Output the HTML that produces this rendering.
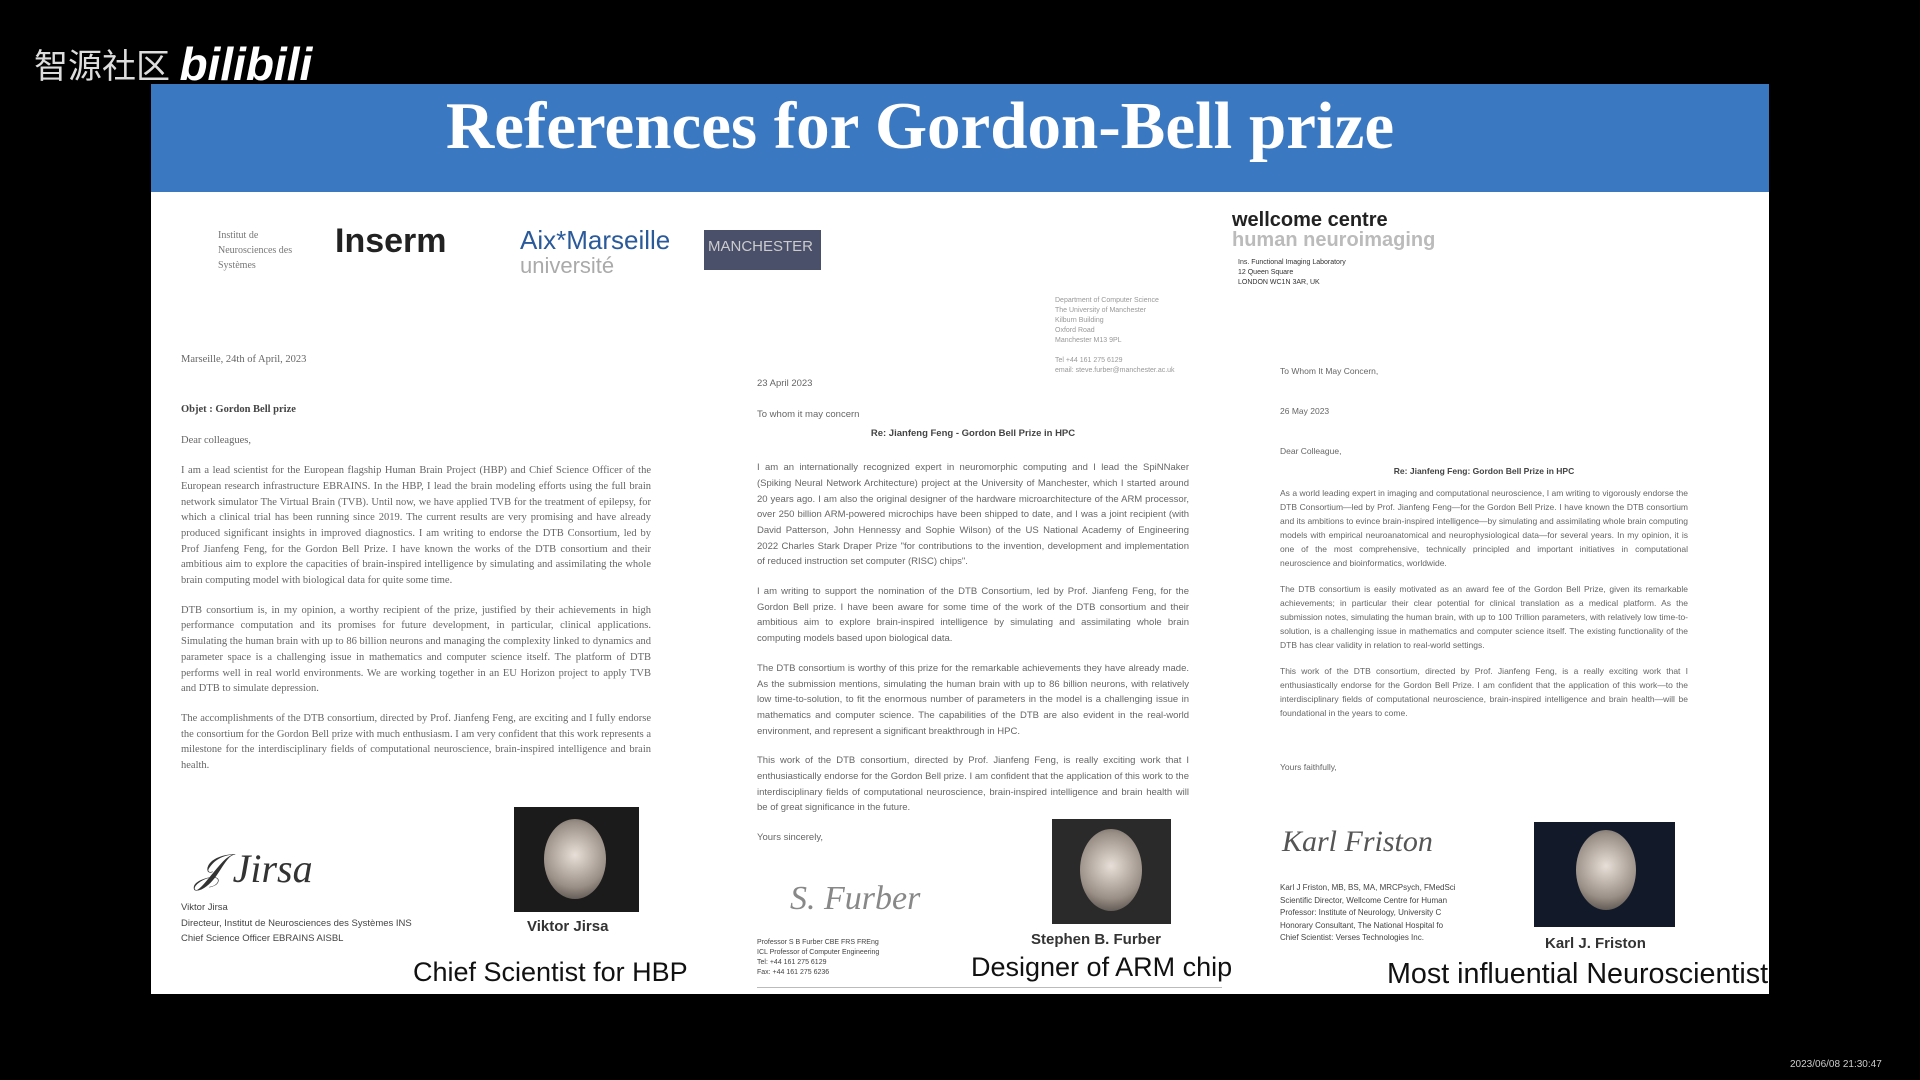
<!DOCTYPE html>
<html><head><meta charset="utf-8"><style>
*{margin:0;padding:0;box-sizing:border-box}
body{width:1920px;height:1080px;background:#000;position:relative;overflow:hidden;font-family:"Liberation Sans",sans-serif}
.a{position:absolute}
.p{position:absolute;font-size:10.5px;line-height:15.7px;color:#666;text-align:justify;font-family:"Liberation Serif",serif;overflow:hidden}
.s{font-family:"Liberation Sans",sans-serif;font-size:9.5px}
.cap{position:absolute;font-size:27px;color:#111;white-space:nowrap}
.photo{position:absolute;background:#1b1b1b;overflow:hidden}
.face{position:absolute;border-radius:50%;background:radial-gradient(circle at 50% 45%,#e8e0d8,#9a8f86 60%,#3a3532)}
.nm{position:absolute;font-size:15px;font-weight:bold;color:#333;white-space:nowrap}
</style></head><body>
<div class="a" style="left:34px;top:36px;line-height:56px;color:#ddd;font-size:34px;font-family:'Liberation Sans','Noto Sans CJK SC',sans-serif;white-space:nowrap">智源社区 <span style="font-weight:bold;font-style:italic;font-size:46px;color:#fff;vertical-align:-2px">bilibili</span></div>
<div class="a" style="left:151px;top:84px;width:1618px;height:910px;background:#fff"></div>
<div class="a" style="left:151px;top:84px;width:1618px;height:108px;background:#3b78c2"></div>
<div class="a" style="left:151px;top:88px;width:1538px;text-align:center;color:#fff;font-family:'Liberation Serif',serif;font-weight:bold;font-size:67px;white-space:nowrap">References for Gordon-Bell prize</div>

<div class="a" style="left:158px;top:228px;font-family:'Liberation Serif',serif;font-size:10px;color:#777;line-height:15px;padding-left:60px">Institut de<br>Neurosciences des<br>Systèmes</div>
<div class="a" style="left:335px;top:222px;font-size:34px;font-weight:bold;color:#222">Inserm</div>
<div class="a" style="left:520px;top:228px;font-size:26px;color:#2a5a9a;line-height:24px">Aix*Marseille<br><span style="color:#aaa;font-size:22px">université</span></div>
<div class="a" style="left:704px;top:230px;width:117px;height:40px;background:#4a4f6a;color:#ccc;font-size:15px;padding:8px 4px">MANCHESTER</div>
<div class="a" style="left:1232px;top:210px;font-size:20px;font-weight:bold;color:#222;line-height:20px">wellcome centre<br><span style="color:#bbb">human neuroimaging</span></div>
<div class="p s" style="left:1238px;top:258px;width:500px;height:60px;font-size:7px;line-height:10px;color:#333">Ins. Functional Imaging Laboratory<br>12 Queen Square<br>LONDON WC1N 3AR, UK</div>
<div class="p s" style="left:1055px;top:296px;width:140px;height:90px;font-size:7px;line-height:10px;color:#999">Department of Computer Science<br>The University of Manchester<br>Kilburn Building<br>Oxford Road<br>Manchester M13 9PL<br><br>Tel +44 161 275 6129<br>email: steve.furber@manchester.ac.uk</div>

<!-- Left letter -->
<div class="p" style="left:181px;top:352px;width:470px;height:440px">
<div>Marseille, 24th of April, 2023</div><div style="height:34px"></div>
<div style="font-weight:bold;color:#444">Objet : Gordon Bell prize</div><div style="height:16px"></div>
<div>Dear colleagues,</div><div style="height:14px"></div>
<div>I am a lead scientist for the European flagship Human Brain Project (HBP) and Chief Science Officer of the European research infrastructure EBRAINS. In the HBP, I lead the brain modeling efforts using the full brain network simulator The Virtual Brain (TVB). Until now, we have applied TVB for the treatment of epilepsy, for which a clinical trial has been running since 2019. The current results are very promising and have already produced significant insights in improved diagnostics. I am writing to endorse the DTB Consortium, led by Prof Jianfeng Feng, for the Gordon Bell Prize. I have known the works of the DTB consortium and their ambitious aim to explore the capacities of brain-inspired intelligence by simulating and assimilating the whole brain computing model with biological data for quite some time.</div><div style="height:14px"></div>
<div>DTB consortium is, in my opinion, a worthy recipient of the prize, justified by their achievements in high performance computation and its promises for future development, in particular, clinical applications. Simulating the human brain with up to 86 billion neurons and managing the complexity linked to dynamics and parameter space is a challenging issue in mathematics and computer science itself. The platform of DTB performs well in real world environments. We are working together in an EU Horizon project to apply TVB and DTB to simulate depression.</div><div style="height:14px"></div>
<div>The accomplishments of the DTB consortium, directed by Prof. Jianfeng Feng, are exciting and I fully endorse the consortium for the Gordon Bell prize with much enthusiasm. I am very confident that this work represents a milestone for the interdisciplinary fields of computational neuroscience, brain-inspired intelligence and brain health.</div>
</div>
<div class="a" style="left:195px;top:845px;font-family:'Liberation Serif',serif;font-style:italic;font-size:40px;color:#333">𝒥 Jirsa</div>
<div class="p s" style="left:181px;top:900px;width:320px;height:50px;color:#444">Viktor Jirsa<br>Directeur, Institut de Neurosciences des Systèmes INS<br>Chief Science Officer EBRAINS AISBL</div>
<div class="photo" style="left:514px;top:807px;width:125px;height:105px"><div class="face" style="left:30px;top:12px;width:62px;height:80px"></div></div>
<div class="nm" style="left:527px;top:918px">Viktor Jirsa</div>
<div class="cap" style="left:413px;top:957px">Chief Scientist for HBP</div>

<!-- Middle letter -->
<div class="p s" style="left:757px;top:376px;width:432px;height:490px">
<div>23 April 2023</div><div style="height:15px"></div>
<div>To whom it may concern</div>
<div style="text-align:center;font-weight:bold;color:#444;margin:4px 0 18px">Re: Jianfeng Feng - Gordon Bell Prize in HPC</div>
<div>I am an internationally recognized expert in neuromorphic computing and I lead the SpiNNaker (Spiking Neural Network Architecture) project at the University of Manchester, which I started around 20 years ago. I am also the original designer of the hardware microarchitecture of the ARM processor, over 250 billion ARM-powered microchips have been shipped to date, and I was a joint recipient (with David Patterson, John Hennessy and Sophie Wilson) of the US National Academy of Engineering 2022 Charles Stark Draper Prize "for contributions to the invention, development and implementation of reduced instruction set computer (RISC) chips".</div><div style="height:14px"></div>
<div>I am writing to support the nomination of the DTB Consortium, led by Prof. Jianfeng Feng, for the Gordon Bell prize. I have been aware for some time of the work of the DTB consortium and their ambitious aim to explore brain-inspired intelligence by simulating and assimilating whole brain computing models based upon biological data.</div><div style="height:14px"></div>
<div>The DTB consortium is worthy of this prize for the remarkable achievements they have already made. As the submission mentions, simulating the human brain with up to 86 billion neurons, with relatively low time-to-solution, to fit the enormous number of parameters in the model is a challenging issue in mathematics and computer science. The capabilities of the DTB are also evident in the real-world environment, and represent a significant breakthrough in HPC.</div><div style="height:14px"></div>
<div>This work of the DTB consortium, directed by Prof. Jianfeng Feng, is really exciting work that I enthusiastically endorse for the Gordon Bell prize. I am confident that the application of this work to the interdisciplinary fields of computational neuroscience, brain-inspired intelligence and brain health will be of great significance in the future.</div><div style="height:14px"></div>
<div>Yours sincerely,</div>
</div>
<div class="a" style="left:790px;top:880px;font-style:italic;font-size:34px;color:#888;font-family:'Liberation Serif',serif">S. Furber</div>
<div class="p s" style="left:757px;top:938px;width:200px;height:52px;font-size:7px;line-height:10px;color:#444">Professor S B Furber CBE FRS FREng<br>ICL Professor of Computer Engineering<br>Tel: +44 161 275 6129<br>Fax: +44 161 275 6236</div>
<div class="a" style="left:757px;top:987px;width:465px;height:1px;background:#bbb"></div>
<div class="photo" style="left:1052px;top:819px;width:119px;height:105px;background:#2a2a2a"><div class="face" style="left:28px;top:10px;width:62px;height:82px"></div></div>
<div class="nm" style="left:1031px;top:931px">Stephen B. Furber</div>
<div class="cap" style="left:971px;top:952px">Designer of ARM chip</div>

<!-- Right letter -->
<div class="p s" style="left:1280px;top:364px;width:408px;height:440px;font-size:8.5px;line-height:14px">
<div>To Whom It May Concern,</div><div style="height:26px"></div>
<div>26 May 2023</div><div style="height:26px"></div>
<div>Dear Colleague,</div>
<div style="text-align:center;font-weight:bold;color:#444;margin:6px 0 8px">Re: Jianfeng Feng: Gordon Bell Prize in HPC</div>
<div>As a world leading expert in imaging and computational neuroscience, I am writing to vigorously endorse the DTB Consortium—led by Prof. Jianfeng Feng—for the Gordon Bell Prize. I have known the DTB consortium and its ambitions to evince brain-inspired intelligence—by simulating and assimilating whole brain computing models with empirical neuroanatomical and neurophysiological data—for several years. In my opinion, it is one of the most comprehensive, technically principled and important initiatives in computational neuroscience and bioinformatics, worldwide.</div><div style="height:12px"></div>
<div>The DTB consortium is easily motivated as an award fee of the Gordon Bell Prize, given its remarkable achievements; in particular their clear potential for clinical translation as a medical platform. As the submission notes, simulating the human brain, with up to 100 Trillion parameters, with relatively low time-to-solution, is a challenging issue in mathematics and computer science itself. The existing functionality of the DTB has clear validity in relation to real-world settings.</div><div style="height:12px"></div>
<div>This work of the DTB consortium, directed by Prof. Jianfeng Feng, is a really exciting work that I enthusiastically endorse for the Gordon Bell Prize. I am confident that the application of this work—to the interdisciplinary fields of computational neuroscience, brain-inspired intelligence and brain health—will be foundational in the years to come.</div><div style="height:40px"></div>
<div>Yours faithfully,</div>
</div>
<div class="a" style="left:1282px;top:825px;font-style:italic;font-size:30px;color:#555;font-family:'Liberation Serif',serif">Karl Friston</div>
<div class="p s" style="left:1280px;top:882px;width:200px;height:66px;font-size:8px;line-height:12.5px;color:#444;white-space:nowrap">Karl J Friston, MB, BS, MA, MRCPsych, FMedSci<br>Scientific Director, Wellcome Centre for Human<br>Professor: Institute of Neurology, University C<br>Honorary Consultant, The National Hospital fo<br>Chief Scientist: Verses Technologies Inc.</div>
<div class="photo" style="left:1534px;top:822px;width:141px;height:105px;background:#121a2a"><div class="face" style="left:42px;top:8px;width:60px;height:80px"></div></div>
<div class="nm" style="left:1545px;top:935px">Karl J. Friston</div>
<div class="cap" style="left:1387px;top:958px;font-size:28.7px">Most influential Neuroscientist</div>

<div class="a" style="left:1790px;top:1059px;font-size:10px;color:#ccc">2023/06/08 21:30:47</div>
</body></html>
